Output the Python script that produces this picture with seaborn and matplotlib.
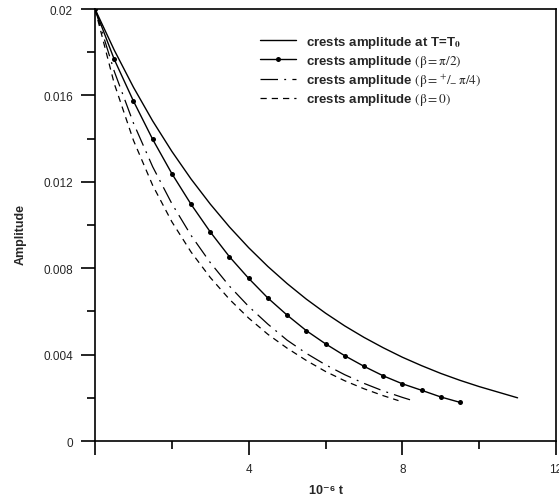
import matplotlib
matplotlib.use("Agg")
import matplotlib.pyplot as plt
import seaborn as sns
import pandas as pd
from matplotlib.ticker import MultipleLocator, FixedLocator

# crests amplitude at T=T0 (solid)
t_t0 = [0, 0.5, 1, 1.5, 2, 2.5, 3, 3.5, 4, 4.5, 5, 5.5, 6, 6.5, 7, 7.5, 8, 8.5, 9, 9.5, 10, 10.5, 11]
amp_t0 = [0.02000, 0.01810, 0.01638, 0.01482, 0.01341, 0.01213, 0.01097, 0.00991, 0.00895, 0.00808,
          0.00729, 0.00657, 0.00592, 0.00533, 0.00480, 0.00432, 0.00388, 0.00349, 0.00313, 0.00281,
          0.00252, 0.00226, 0.00200]

# beta = pi/2 (line with dots)
t_half = [0, 0.5, 1, 1.5, 2, 2.5, 3, 3.5, 4, 4.5, 5, 5.5, 6, 6.5, 7, 7.5, 8, 8.5, 9, 9.5]
amp_half = [0.0200, 0.01767, 0.01574, 0.01397, 0.01238, 0.01096, 0.00968, 0.00853, 0.00753, 0.00662,
            0.00583, 0.00511, 0.00450, 0.00395, 0.00346, 0.00302, 0.00265, 0.00235, 0.00204, 0.00179]

# beta = +/- pi/4 (dash-dot)
t_quarter = [0, 0.5, 1, 1.5, 2, 2.5, 3, 3.5, 4, 4.5, 5, 5.5, 6, 6.5, 7, 7.5, 8, 8.2]
amp_quarter = [0.0200, 0.01712, 0.01472, 0.01270, 0.01099, 0.00952, 0.00826, 0.00717, 0.00623, 0.00541,
               0.00467, 0.00406, 0.00353, 0.00307, 0.00267, 0.00232, 0.00202, 0.00191]

# beta = 0 (dashed)
t_zero = [0, 0.5, 1, 1.5, 2, 2.5, 3, 3.5, 4, 4.5, 5, 5.5, 6, 6.5, 7, 7.5, 7.9]
amp_zero = [0.0200, 0.01655, 0.01392, 0.01184, 0.01015, 0.00875, 0.00757, 0.00656, 0.00569, 0.00494,
            0.00430, 0.00373, 0.00322, 0.00279, 0.00242, 0.00210, 0.00187]

labels = [
    r"crests amplitude at T=T$_\mathbf{0}$",
    r"crests amplitude $(\mathrm{\beta} = \mathrm{\pi}/2)$",
    r"crests amplitude $(\mathrm{\beta} = {}^{+}/_{-}\,\mathrm{\pi}/4)$",
    r"crests amplitude $(\mathrm{\beta} = 0)$",
]

sns.set_style("ticks")
plt.rcParams["font.family"] = ["Liberation Sans", "DejaVu Sans"]
plt.rcParams["mathtext.fontset"] = "stix"

fig = plt.figure(figsize=(5.59, 5.02), dpi=100)
ax = fig.add_axes([0.170, 0.1195, 0.8246, 0.8605])

df_t0 = pd.DataFrame({"t": t_t0, "amp": amp_t0})
df_half = pd.DataFrame({"t": t_half, "amp": amp_half})
df_quarter = pd.DataFrame({"t": t_quarter, "amp": amp_quarter})
df_zero = pd.DataFrame({"t": t_zero, "amp": amp_zero})

sns.lineplot(data=df_t0, x="t", y="amp", color="black", lw=1.0, ax=ax)
sns.lineplot(data=df_half, x="t", y="amp", color="black", lw=1.0, marker="o",
             markersize=3.6, markeredgewidth=0, ax=ax)
sns.lineplot(data=df_quarter, x="t", y="amp", color="black", lw=0.9,
             linestyle=(0, (14, 5, 1.5, 5)), ax=ax)
sns.lineplot(data=df_zero, x="t", y="amp", color="black", lw=0.9,
             linestyle=(0, (5, 4)), ax=ax)

ax.set_xlim(0, 12)
ax.set_ylim(0, 0.02)
ax.xaxis.set_major_locator(FixedLocator([0, 4, 8, 12]))
ax.set_xticklabels(["", "4", "8", "12"])
ax.xaxis.set_minor_locator(MultipleLocator(2))
ax.set_yticks([0, 0.004, 0.008, 0.012, 0.016, 0.02])
ax.set_yticklabels(["0", "0.004", "0.008", "0.012", "0.016", "0.02"])
ax.yaxis.set_minor_locator(MultipleLocator(0.002))
ax.tick_params(which="major", direction="out", length=10, width=1.2, labelsize=8.5, pad=6, color="black")
ax.tick_params(which="minor", direction="out", length=5.5, width=1.2, color="black")
for sp in ax.spines.values():
    sp.set_visible(True)
    sp.set_linewidth(1.2)
    sp.set_color("black")

ax.set_xlabel("10⁻⁶ t", fontweight="bold", fontsize=9, labelpad=6)
ax.set_ylabel("Amplitude", fontweight="bold", fontsize=9)
ax.yaxis.set_label_coords(-0.148, 0.48)

leg = ax.legend(ax.lines[:4], labels, loc="upper left", bbox_to_anchor=(0.332, 0.97),
                frameon=False, handlelength=2.7, handletextpad=0.8, labelspacing=0.2,
                prop={"weight": "bold", "size": 9.5})

fig.savefig("out.png", dpi=100)
